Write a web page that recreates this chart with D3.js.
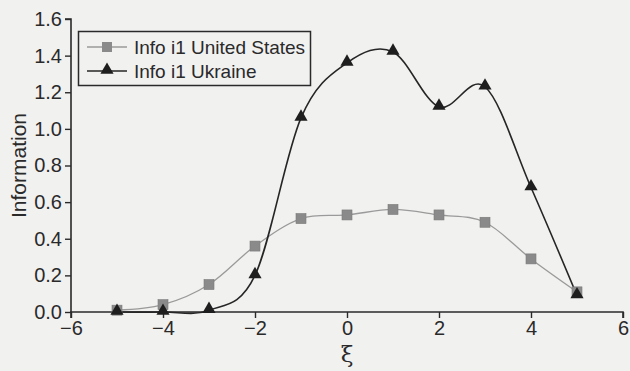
<!DOCTYPE html>
<html>
<head>
<meta charset="utf-8">
<script src="https://cdn.jsdelivr.net/npm/d3@7"></script>
<style>
  html, body { margin: 0; padding: 0; background: #f1f1f0; }
  svg { display: block; }
  text { font-family: "Liberation Sans", Arial, Helvetica, sans-serif; fill: #2a2a2a; }
</style>
</head>
<body>
<svg id="chart" width="630" height="371"></svg>
<script>
// Item information across ability levels
const xi = [-5, -4, -3, -2, -1, 0, 1, 2, 3, 4, 5];
const infoUS = [0.01, 0.04, 0.15, 0.36, 0.51, 0.53, 0.56, 0.53, 0.49, 0.29, 0.11];
const infoUkraine = [0.0, 0.0, 0.01, 0.2, 1.06, 1.36, 1.42, 1.12, 1.23, 0.68, 0.09];
const seriesNames = ["Info i1 United States", "Info i1 Ukraine"];
const xTicks = [-6, -4, -2, 0, 2, 4, 6];
const yTicks = [0, 0.2, 0.4, 0.6, 0.8, 1.0, 1.2, 1.4, 1.6];

const svg = d3.select("#chart");
const margin = { left: 71, right: 8, top: 19, bottom: 59 };
const W = 630, H = 371;

const x = d3.scaleLinear().domain([-6, 6]).range([margin.left, W - margin.right + 1]);
const y = d3.scaleLinear().domain([0, 1.6]).range([H - margin.bottom, margin.top]);

const axisColor = "#2a2a2a";
const tickFont = "20px";

// x axis
const gx = svg.append("g")
  .attr("transform", `translate(0,${y(0)})`)
  .call(d3.axisBottom(x).tickValues(xTicks).tickSize(6).tickPadding(3)
    .tickFormat(d => d < 0 ? "\u2212" + Math.abs(d) : String(d)));
gx.select(".domain").attr("stroke", axisColor).attr("stroke-width", 1.6)
  .attr("d", `M${x(-6)},6V0H${x(6)}V6`);
gx.selectAll(".tick line").attr("stroke", axisColor).attr("stroke-width", 1.4);
gx.selectAll(".tick text").style("font-size", tickFont).attr("fill", "#2a2a2a")
  .style("font-family", "Liberation Sans, Arial, sans-serif");

// y axis
const gy = svg.append("g")
  .attr("transform", `translate(${x(-6)},0)`)
  .call(d3.axisLeft(y).tickValues(yTicks).tickSize(6).tickPadding(3)
    .tickFormat(d3.format(".1f")));
gy.select(".domain").attr("stroke", axisColor).attr("stroke-width", 1.6)
  .attr("d", `M-6,${y(1.6)}H0V${y(0)}`);
gy.selectAll(".tick line").attr("stroke", axisColor).attr("stroke-width", 1.4);
gy.selectAll(".tick text").style("font-size", tickFont).attr("fill", "#2a2a2a")
  .style("font-family", "Liberation Sans, Arial, sans-serif");

// axis titles
svg.append("text")
  .attr("transform", `translate(26,${(y(0) + y(1.6)) / 2}) rotate(-90)`)
  .attr("text-anchor", "middle")
  .style("font-size", "21px")
  .text("Information");
svg.append("text")
  .attr("x", x(0)).attr("y", 362)
  .attr("text-anchor", "middle")
  .style("font-size", "23px")
  .style("font-family", "DejaVu Serif, serif")
  .text("\u03be");

const line = d3.line()
  .x((d, i) => x(xi[i]))
  .y(d => y(d))
  .curve(d3.curveCardinal.tension(0));

// United States series
svg.append("path").datum(infoUS)
  .attr("d", line).attr("fill", "none")
  .attr("stroke", "#9a9a9a").attr("stroke-width", 1.3);

// Ukraine series
svg.append("path").datum(infoUkraine)
  .attr("d", line).attr("fill", "none")
  .attr("stroke", "#262626").attr("stroke-width", 1.6);

const sq = 10;
svg.append("g").selectAll("rect").data(infoUS).join("rect")
  .attr("x", (d, i) => x(xi[i]) - sq / 2)
  .attr("y", d => y(d) - sq / 2)
  .attr("width", sq).attr("height", sq)
  .attr("fill", "#8a8a8a").attr("stroke", "#7a7a7a").attr("stroke-width", 0.6);

const tri = d3.symbol().type(d3.symbolTriangle).size(75);
svg.append("g").selectAll("path").data(infoUkraine).join("path")
  .attr("transform", (d, i) => `translate(${x(xi[i])},${y(d) - 1})`)
  .attr("d", tri)
  .attr("fill", "#1e1e1e");

// legend
const lg = svg.append("g");
lg.append("rect")
  .attr("x", 78.5).attr("y", 31.5).attr("width", 232).attr("height", 54)
  .attr("fill", "none").attr("stroke", "#2a2a2a").attr("stroke-width", 1.5);

const rows = [
  { name: seriesNames[0], color: "#9a9a9a", w: 1.3, marker: "sq" },
  { name: seriesNames[1], color: "#262626", w: 1.6, marker: "tri" }
];
rows.forEach((r, i) => {
  const cy = 47 + i * 24;
  lg.append("line").attr("x1", 87).attr("x2", 127).attr("y1", cy).attr("y2", cy)
    .attr("stroke", r.color).attr("stroke-width", r.w);
  if (r.marker === "sq") {
    lg.append("rect").attr("x", 107 - sq / 2).attr("y", cy - sq / 2)
      .attr("width", sq).attr("height", sq).attr("fill", "#8a8a8a");
  } else {
    lg.append("path").attr("transform", `translate(107,${cy - 1})`)
      .attr("d", tri).attr("fill", "#1e1e1e");
  }
  lg.append("text").attr("x", 134).attr("y", cy + 7)
    .style("font-size", "19px").text(r.name);
});
</script>
</body>
</html>
